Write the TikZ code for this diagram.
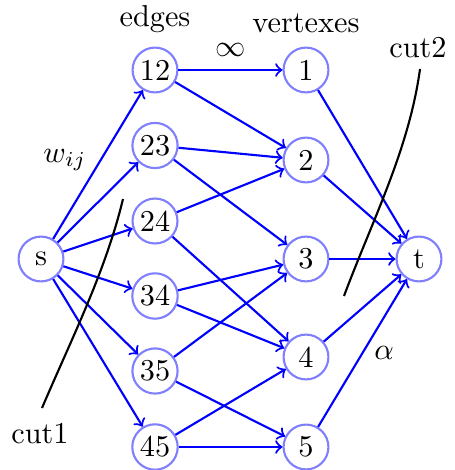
\documentclass[tikz,border=0pt]{standalone}
\begin{document}
\begin{tikzpicture}[x=0.33pt,y=-0.33pt,
  vtx/.style={circle,draw=blue!50,line width=0.7pt,minimum size=14.8pt,inner sep=1pt},
  arc/.style={->,blue,line width=0.7pt},
  cutline/.style={black,line width=0.7pt},
  lbl/.style={inner sep=0pt}]
\useasboundingbox (0,0) rectangle (454,470);
% nodes
\node[vtx] (s) at (41,259) {s};
\node[vtx] (e12) at (155,70) {12};
\node[vtx] (e23) at (155,145.5) {23};
\node[vtx] (e24) at (155,221) {24};
\node[vtx] (e34) at (155,296) {34};
\node[vtx] (e35) at (155,371) {35};
\node[vtx] (e45) at (155,447) {45};
\node[vtx] (v1) at (306,70) {1};
\node[vtx] (v2) at (306,160) {2};
\node[vtx] (v3) at (306,259) {3};
\node[vtx] (v4) at (306,357) {4};
\node[vtx] (v5) at (306,447) {5};
\node[vtx] (t) at (419,259) {t};
% labels
\node[lbl,anchor=base] (ledges) at (155,27) {edges};
\node[lbl,anchor=base] (lvert) at (306,33) {vertexes};
\node[lbl] (linf) at (231,50) {$\infty$};
\node[lbl] (lw) at (65,160) {$w_{ij}$};
\node[lbl] (lalpha) at (384,353) {$\alpha$};
\node[lbl,anchor=base] (lcut1) at (40,443) {cut1};
\node[lbl,anchor=base] (lcut2) at (418,58) {cut2};
% arcs from s
\foreach \e in {e12,e23,e24,e34,e35,e45} \draw[arc] (s) -- (\e);
% middle arcs
\draw[arc] (e12) -- (v1);
\draw[arc] (e12) -- (v2);
\draw[arc] (e23) -- (v2);
\draw[arc] (e23) -- (v3);
\draw[arc] (e24) -- (v2);
\draw[arc] (e24) -- (v4);
\draw[arc] (e34) -- (v3);
\draw[arc] (e34) -- (v4);
\draw[arc] (e35) -- (v3);
\draw[arc] (e35) -- (v5);
\draw[arc] (e45) -- (v4);
\draw[arc] (e45) -- (v5);
% to t
\foreach \v in {v1,v2,v3,v4,v5} \draw[arc] (\v) -- (t);
% cuts
\coordinate (c1a) at (42,408);
\coordinate (c1b) at (123,199);
\coordinate (c2a) at (420,69);
\coordinate (c2b) at (344,296);
\draw[cutline] (c1a) .. controls (71.3,339.2) and (105.3,272.3) .. (c1b);
\draw[cutline] (c2a) .. controls (409,149.5) and (372,221) .. (c2b);
\end{tikzpicture}
\end{document}
